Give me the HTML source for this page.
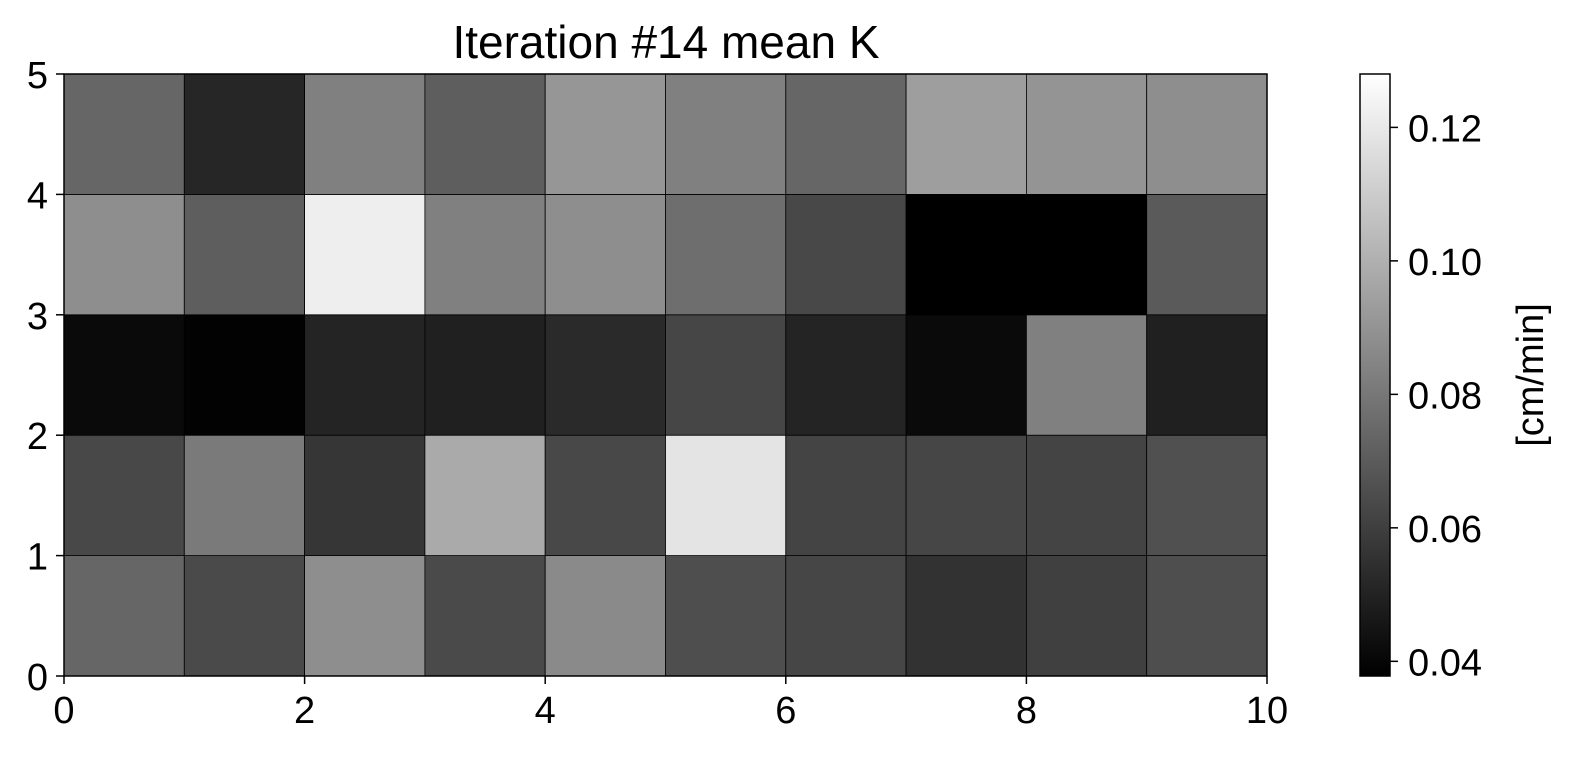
<!DOCTYPE html>
<html><head><meta charset="utf-8"><style>
body{margin:0;background:#fff;}
svg text{font-family:"Liberation Sans",Arial,sans-serif;fill:#000;}
</style></head><body>
<svg id="chart" width="1574" height="759" xmlns="http://www.w3.org/2000/svg">
<defs><linearGradient id="cbg" x1="0" y1="1" x2="0" y2="0"><stop offset="0" stop-color="#000"/><stop offset="1" stop-color="#fff"/></linearGradient></defs>
<text x="666" y="58" font-size="46" text-anchor="middle">Iteration #14 mean K</text>
<g id="cells"></g>
<g id="axes"></g>
<rect x="1360" y="74" width="30" height="602" fill="url(#cbg)" stroke="#000" stroke-width="1.5"/>
<g id="cbticks"></g>
<text transform="translate(1543,375) rotate(-90)" font-size="38" text-anchor="middle">[cm/min]</text>
</svg>
<script>
// rows listed bottom (y 0-1) to top (y 4-5)
const rowsData = [
 [0.0739,0.0640,0.0880,0.0640,0.0866,0.0654,0.0626,0.0555,0.0604,0.0654],
 [0.0633,0.0810,0.0569,0.0979,0.0633,0.1184,0.0619,0.0626,0.0619,0.0661],
 [0.0413,0.0385,0.0505,0.0491,0.0527,0.0626,0.0505,0.0413,0.0831,0.0491],
 [0.0880,0.0710,0.1220,0.0831,0.0880,0.0767,0.0633,0.0378,0.0378,0.0696],
 [0.0739,0.0512,0.0831,0.0710,0.0909,0.0831,0.0739,0.0937,0.0901,0.0880]
];
const xTicks = [0,2,4,6,8,10];
const yTicks = [0,1,2,3,4,5];
const cbTicks = [0.04,0.06,0.08,0.10,0.12];
const vmin = 0.0378, vmax = 0.128;
const X0=64,X1=1267,Y0=676,Y1=74;
const xs = v => X0 + v/10*(X1-X0);
const ys = v => Y0 - v/5*(Y0-Y1);
const cb = v => 676 - (v-vmin)/(vmax-vmin)*602;
const NS="http://www.w3.org/2000/svg";
function mk(tag, attrs, parent){const e=document.createElementNS(NS,tag);for(const k in attrs)e.setAttribute(k,attrs[k]);parent.appendChild(e);return e;}
const cells=document.getElementById('cells');
rowsData.forEach((row,r)=>row.forEach((v,c)=>{
  let g=Math.round(Math.max(0,Math.min(1,(v-vmin)/(vmax-vmin)))*255);
  const e=mk('rect',{x:xs(c),y:ys(r+1),width:xs(c+1)-xs(c),height:ys(r)-ys(r+1),fill:`rgb(${g},${g},${g})`,stroke:'#000','stroke-width':0.8},cells);
  
  
}));
const ax=document.getElementById('axes');
const fr=mk('rect',{x:X0,y:Y1,width:X1-X0,height:Y0-Y1,fill:'none',stroke:'#000','stroke-width':1.5},ax);


xTicks.forEach(t=>{
  mk('line',{x1:xs(t),x2:xs(t),y1:Y0,y2:Y0+8,stroke:'#000','stroke-width':1.5},ax);
  const e=mk('text',{x:xs(t),y:Y0+47,'font-size':38,'text-anchor':'middle'},ax);
  e.textContent=t;
  
  
});
yTicks.forEach(t=>{
  mk('line',{x1:X0-8,x2:X0,y1:ys(t),y2:ys(t),stroke:'#000','stroke-width':1.5},ax);
  const e=mk('text',{x:X0-16,y:ys(t)+14,'font-size':38,'text-anchor':'end'},ax);
  e.textContent=t;
  
  
});
const cbt=document.getElementById('cbticks');
cbTicks.forEach(t=>{
  mk('line',{x1:1390,x2:1398,y1:cb(t),y2:cb(t),stroke:'#000','stroke-width':1.5},cbt);
  const e=mk('text',{x:1408,y:cb(t)+14,'font-size':38},cbt);
  e.textContent=t.toFixed(2);
  
  
});
</script>
</body></html>
